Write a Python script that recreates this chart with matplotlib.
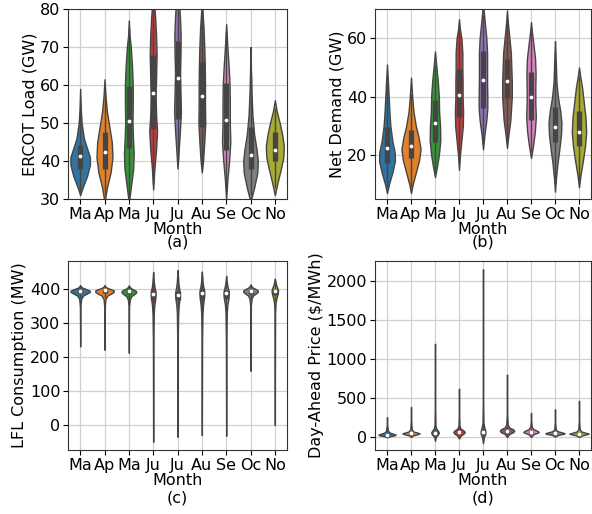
import numpy as np
import matplotlib
matplotlib.use("Agg")
import matplotlib.pyplot as plt

plt.rcParams["font.family"] = "DejaVu Sans"
plt.rcParams["font.size"] = 11.5

months = ["Ma", "Ap", "Ma", "Ju", "Ju", "Au", "Se", "Oc", "No"]
colors = ["#3274a1", "#e1812c", "#3a923a", "#c03d3e", "#9372b2",
          "#845b53", "#d684bd", "#7f7f7f", "#a9aa35"]
edge = "#454545"

# (a) ERCOT load -- violin outlines (value, half width)
a_y = [
    [31, 33, 36, 39, 41, 43, 46, 50, 53, 59],
    [30, 33, 37, 41, 45, 49, 53, 57, 61.5],
    [30, 34, 38, 42, 46, 50, 55, 60, 65, 70, 73, 77],
    [32.5, 38, 43, 48, 52, 57, 62, 68, 73, 78, 83, 85],
    [38, 43, 48, 53, 58, 63, 68, 73, 78, 83, 87],
    [37, 40, 45, 50, 55, 60, 65, 70, 75, 80, 82],
    [30, 35, 40, 45, 50, 55, 60, 65, 70, 76],
    [30, 33, 37, 40, 43, 47, 52, 58, 63, 70],
    [31, 34, 38, 41, 44, 47, 50, 53, 56],
]
a_w = [
    [0, 0.1, 0.28, 0.4, 0.4, 0.3, 0.15, 0.06, 0.03, 0],
    [0.02, 0.1, 0.25, 0.33, 0.3, 0.2, 0.1, 0.04, 0],
    [0.02, 0.1, 0.18, 0.2, 0.17, 0.15, 0.16, 0.16, 0.13, 0.08, 0.03, 0],
    [0, 0.05, 0.12, 0.16, 0.12, 0.1, 0.12, 0.14, 0.12, 0.08, 0.02, 0],
    [0, 0.05, 0.1, 0.14, 0.12, 0.1, 0.12, 0.13, 0.1, 0.05, 0],
    [0, 0.05, 0.1, 0.14, 0.13, 0.13, 0.12, 0.1, 0.07, 0.02, 0],
    [0, 0.05, 0.12, 0.17, 0.15, 0.15, 0.14, 0.1, 0.05, 0],
    [0.03, 0.15, 0.28, 0.3, 0.25, 0.15, 0.08, 0.04, 0.02, 0],
    [0, 0.1, 0.25, 0.35, 0.37, 0.3, 0.2, 0.08, 0],
]
a_q1 = [37.8, 38, 43.5, 48.5, 51, 49, 43, 38, 40]
a_med = [41.3, 42.3, 50.5, 58, 61.8, 57.2, 50.8, 41.5, 43]
a_q3 = [44.2, 47.5, 59.8, 68, 71.5, 66, 60.5, 49, 47.5]
a_wlo = [32, 31, 31, 34, 40, 39, 32, 31, 33]
a_whi = [53, 58, 75, 82, 82, 80, 74, 63, 54]

# (b) net demand
b_y = [
    [7, 10, 14, 18, 21, 25, 30, 35, 40, 45, 51],
    [7, 10, 14, 18, 22, 26, 30, 35, 40, 46.5],
    [12.5, 16, 20, 25, 30, 35, 40, 45, 50, 55.5],
    [15, 20, 25, 30, 35, 40, 45, 50, 55, 60, 63, 66.5],
    [22, 27, 32, 36, 40, 45, 50, 55, 60, 65, 70, 72],
    [22.5, 27, 32, 36, 40, 45, 50, 55, 60, 65, 69.5],
    [19, 23, 28, 33, 38, 43, 48, 53, 58, 62, 65.5],
    [7.5, 12, 17, 22, 27, 31, 35, 40, 45, 50, 55, 59],
    [9, 13, 18, 23, 28, 33, 38, 43, 47, 50],
]
b_w = [
    [0, 0.08, 0.22, 0.33, 0.32, 0.22, 0.14, 0.1, 0.07, 0.04, 0],
    [0, 0.07, 0.2, 0.33, 0.4, 0.32, 0.2, 0.1, 0.05, 0],
    [0, 0.08, 0.16, 0.22, 0.21, 0.17, 0.16, 0.12, 0.06, 0],
    [0, 0.04, 0.1, 0.16, 0.17, 0.15, 0.15, 0.14, 0.14, 0.1, 0.04, 0],
    [0, 0.06, 0.14, 0.18, 0.18, 0.17, 0.17, 0.17, 0.14, 0.08, 0.02, 0],
    [0, 0.06, 0.14, 0.17, 0.2, 0.2, 0.18, 0.16, 0.1, 0.04, 0],
    [0, 0.08, 0.16, 0.2, 0.18, 0.18, 0.19, 0.17, 0.1, 0.04, 0],
    [0, 0.04, 0.1, 0.18, 0.25, 0.27, 0.22, 0.12, 0.06, 0.04, 0.02, 0],
    [0, 0.06, 0.16, 0.25, 0.3, 0.27, 0.2, 0.13, 0.05, 0],
]
b_q1 = [17.3, 19, 24.5, 33, 36, 39.5, 32, 24.5, 23]
b_med = [22.3, 23.2, 31, 40.5, 45.8, 45.5, 39.8, 29.8, 28]
b_q3 = [29.5, 28.5, 39, 49.5, 55.5, 53, 48.5, 36.5, 35]
b_wlo = [9, 9, 14, 17, 24, 25, 21, 10, 11]
b_whi = [45, 41, 51, 63, 68, 66, 62, 52, 47]

# (c) LFL consumption
c_y = [
    [232, 300, 350, 372, 382, 388, 393, 397, 401, 405, 409, 413],
    [222, 300, 350, 372, 382, 388, 393, 397, 401, 405, 409, 413],
    [213, 300, 350, 370, 380, 386, 391, 395, 399, 403, 408, 412],
    [-50, 100, 250, 330, 355, 370, 385, 395, 405, 420, 440, 452],
    [-35, 100, 250, 330, 355, 370, 383, 393, 405, 420, 440, 457],
    [-30, 100, 250, 330, 355, 372, 388, 398, 408, 422, 440, 453],
    [-32, 100, 250, 330, 355, 372, 388, 396, 405, 415, 428, 440],
    [160, 300, 350, 372, 382, 388, 393, 397, 401, 405, 410, 415],
    [0, 200, 330, 360, 375, 385, 393, 399, 405, 415, 425, 432],
]
c_w = [
    [0, 0.005, 0.01, 0.04, 0.12, 0.28, 0.4, 0.38, 0.25, 0.1, 0.03, 0],
    [0, 0.005, 0.01, 0.04, 0.12, 0.28, 0.38, 0.38, 0.25, 0.1, 0.03, 0],
    [0, 0.005, 0.01, 0.04, 0.1, 0.22, 0.3, 0.3, 0.22, 0.1, 0.03, 0],
    [0, 0.005, 0.01, 0.025, 0.05, 0.08, 0.1, 0.09, 0.06, 0.03, 0.012, 0],
    [0, 0.005, 0.01, 0.025, 0.05, 0.08, 0.1, 0.09, 0.06, 0.03, 0.012, 0],
    [0, 0.005, 0.01, 0.025, 0.05, 0.08, 0.1, 0.09, 0.06, 0.03, 0.012, 0],
    [0, 0.005, 0.01, 0.025, 0.05, 0.09, 0.11, 0.1, 0.07, 0.04, 0.015, 0],
    [0, 0.005, 0.01, 0.04, 0.1, 0.22, 0.3, 0.3, 0.22, 0.1, 0.03, 0],
    [0, 0.005, 0.01, 0.03, 0.07, 0.11, 0.13, 0.13, 0.1, 0.05, 0.02, 0],
]
c_q1 = [390, 390, 386, 370, 368, 372, 372, 388, 385]
c_med = [396, 397, 394, 388, 385, 390, 390, 395, 396]
c_q3 = [400, 400, 398, 398, 396, 400, 398, 399, 402]
c_wlo = [375, 375, 370, 330, 325, 330, 335, 372, 365]
c_whi = [410, 410, 410, 430, 440, 440, 430, 412, 425]

# (d) day-ahead price
d_y = [
    [-5, 10, 20, 30, 40, 55, 80, 150, 255],
    [0, 20, 35, 45, 55, 70, 100, 200, 385],
    [-50, 0, 30, 55, 80, 110, 150, 400, 1195],
    [-20, 20, 45, 65, 85, 110, 150, 300, 620],
    [-80, 0, 35, 65, 95, 130, 180, 500, 2150],
    [0, 40, 60, 80, 100, 120, 160, 300, 800],
    [0, 35, 55, 65, 80, 100, 130, 200, 310],
    [5, 25, 40, 48, 58, 75, 100, 180, 355],
    [0, 20, 35, 42, 52, 70, 100, 200, 465],
]
d_w = [
    [0, 0.12, 0.3, 0.36, 0.28, 0.12, 0.04, 0.01, 0],
    [0, 0.08, 0.28, 0.36, 0.28, 0.1, 0.03, 0.01, 0],
    [0, 0.03, 0.12, 0.16, 0.12, 0.05, 0.02, 0.006, 0],
    [0, 0.08, 0.2, 0.24, 0.18, 0.06, 0.02, 0.006, 0],
    [0, 0.04, 0.09, 0.1, 0.08, 0.05, 0.02, 0.005, 0],
    [0, 0.1, 0.25, 0.3, 0.25, 0.1, 0.03, 0.008, 0],
    [0, 0.1, 0.28, 0.32, 0.25, 0.1, 0.03, 0.01, 0],
    [0, 0.12, 0.35, 0.4, 0.3, 0.1, 0.03, 0.01, 0],
    [0, 0.12, 0.33, 0.4, 0.3, 0.1, 0.03, 0.008, 0],
]
d_q1 = [22, 38, 40, 45, 40, 65, 55, 38, 32]
d_med = [30, 45, 55, 62, 65, 78, 65, 45, 40]
d_q3 = [38, 52, 75, 80, 95, 92, 78, 52, 48]
d_wlo = [0, 15, 0, 10, 0, 30, 25, 15, 10]
d_whi = [60, 75, 120, 120, 160, 130, 110, 75, 70]


def violins(ax, ys, ws, q1, med, q3, wlo, whi):
    pos = np.arange(len(months))
    for i in pos:
        y = np.array(ys[i])
        w = np.array(ws[i])
        ax.fill_betweenx(y, i - w, i + w, facecolor=colors[i],
                         edgecolor=edge, linewidth=1.0, zorder=2)
    ax.vlines(pos, wlo, whi, color=edge, linewidth=1.0, zorder=3)
    ax.vlines(pos, q1, q3, color=edge, linewidth=3.8, zorder=3)
    ax.scatter(pos, med, s=3, color="white", zorder=4)
    ax.set_xticks(pos)
    ax.set_xticklabels(months)
    ax.set_xlim(-0.5, len(months) - 0.5)
    ax.tick_params(pad=2)
    ax.grid(True, color="#d0d0d0", linewidth=0.9)
    ax.set_axisbelow(True)
    for s in ax.spines.values():
        s.set_color("#333333")


fig = plt.figure(figsize=(5.92, 5.14), dpi=100)
W, H = 592, 514


def px_axes(l, t, r, b):
    return fig.add_axes([l / W, 1 - b / H, (r - l) / W, (b - t) / H])


ax1 = px_axes(68, 9, 287, 199)
violins(ax1, a_y, a_w, a_q1, a_med, a_q3, a_wlo, a_whi)
ax1.set_ylim(30, 80)
ax1.set_yticks([30, 40, 50, 60, 70, 80])
ax1.set_ylabel("ERCOT Load (GW)", labelpad=2)
ax1.set_xlabel("Month\n(a)", linespacing=0.85, labelpad=0)

ax2 = px_axes(375, 9, 591, 199)
violins(ax2, b_y, b_w, b_q1, b_med, b_q3, b_wlo, b_whi)
ax2.set_ylim(5, 70)
ax2.set_yticks([20, 40, 60])
ax2.set_ylabel("Net Demand (GW)", labelpad=2)
ax2.set_xlabel("Month\n(b)", linespacing=0.85, labelpad=0)

ax3 = px_axes(68, 261, 287, 450)
violins(ax3, c_y, c_w, c_q1, c_med, c_q3, c_wlo, c_whi)
ax3.set_ylim(-74, 484)
ax3.set_yticks([0, 100, 200, 300, 400])
ax3.set_ylabel("LFL Consumption (MW)", labelpad=2)
ax3.set_xlabel("Month\n(c)", linespacing=1.25, labelpad=0)

ax4 = px_axes(375, 261, 591, 450)
violins(ax4, d_y, d_w, d_q1, d_med, d_q3, d_wlo, d_whi)
ax4.set_ylim(-167, 2256)
ax4.set_yticks([0, 500, 1000, 1500, 2000])
ax4.set_ylabel(r"Day-Ahead Price (\$/MWh)", labelpad=2)
ax4.set_xlabel("Month\n(d)", linespacing=1.25, labelpad=0)

fig.savefig("out.png", dpi=100)
